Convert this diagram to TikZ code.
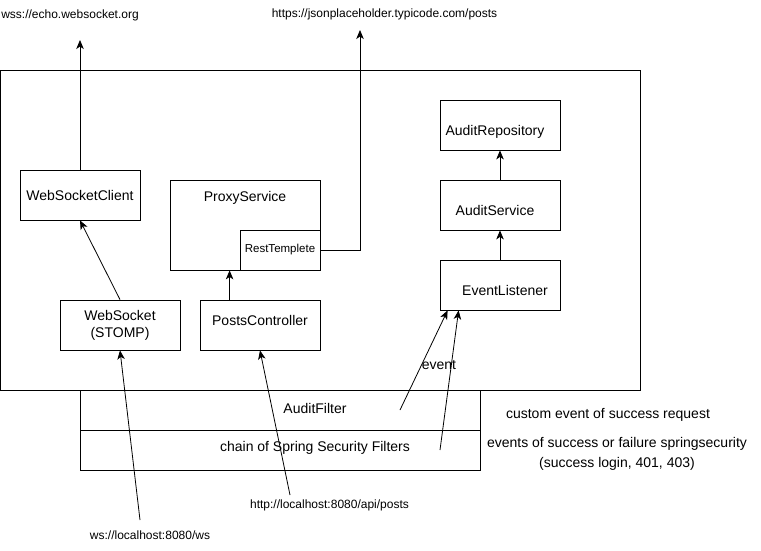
\documentclass[tikz,border=0pt]{standalone}
\usepackage{fontspec}
\setmainfont{Liberation Sans}
\usetikzlibrary{arrows.meta}

\begin{document}
\begin{tikzpicture}[x=1pt,y=-1pt,
    box/.style={draw, line width=0.8pt, minimum width=120pt, minimum height=50pt, inner sep=0pt, font=\fontsize{14}{17}\selectfont, align=center},
    every label/.style={font=\fontsize{14}{17}\selectfont, inner sep=0pt},
    url/.style={font=\fontsize{12}{14}\selectfont, inner sep=0pt},
    note/.style={font=\fontsize{14}{20}\selectfont, inner sep=0pt, align=center},
    arr/.style={line width=0.8pt, -{Stealth[length=9pt,width=7.5pt,inset=2.5pt]}}]
    \useasboundingbox (0,0) rectangle (761,550);
    % application and filters
    \draw[line width=0.8pt] (0.5,70) rectangle (640,390);
    \node[box, minimum width=400pt, minimum height=40pt] (auditfilter) at (280,410) {};
    \node[box, minimum width=400pt, minimum height=40pt] (chain) at (280,450) {};
    \node[note] (audittxt) at (315,408) {AuditFilter};
    \node[note] (chaintxt) at (315,448) {chain of Spring Security Filters};
    % components
    \node[box] (wsclient) at (80,195) {WebSocketClient};
    \node[box, minimum width=150pt, minimum height=90pt,
        label={[anchor=north, yshift=-12pt]north:ProxyService}] (proxy) at (245,225) {};
    \node[box, minimum width=80pt, minimum height=40pt, font=\fontsize{11.5}{14}\selectfont] (rest) at (280,250) {\strut RestTemplete};
    \node[box] (stomp) at (120,325) {WebSocket\\(STOMP)};
    \node[box, label={[yshift=5pt]center:PostsController}] (posts) at (260,325) {};
    \node[box, label={[xshift=-5pt, yshift=-7pt]center:AuditRepository}] (repo) at (500,125) {};
    \node[box, label={[xshift=-5pt, yshift=-5pt]center:AuditService}] (auditsvc) at (500,205) {};
    \node[box, label={[xshift=5pt, yshift=-5pt]center:EventListener}] (evl) at (500,285) {};
    % outside
    \coordinate (echoup) at (80,40);
    \coordinate (jsonup) at (360,30);
    \coordinate (wsin) at (140,520);
    \coordinate (httpin) at (290,495);
    \coordinate (afin) at (400,410);
    \coordinate (chin) at (440,450);
    \node[url] (echourl) at (70,15) {wss://echo.websocket.org};
    \node[url] (jsonurl) at (384.5,14) {https://jsonplaceholder.typicode.com/posts};
    \node[url] (wsurl) at (150,535) {ws://localhost:8080/ws};
    \node[url] (httpurl) at (329.5,505) {http://localhost:8080/api/posts};
    \node[note] (evtxt) at (439,365) {event};
    \node[note] (customtxt) at (608,415) {custom event of success request};
    \node[note] (secevtxt) at (617,454) {events of success or failure springsecurity\\(success login, 401, 403)};
    % connectors
    \draw[arr] (wsclient.north) -- (echoup);
    \draw[arr] (rest.east) -| (jsonup);
    \draw[arr] (stomp.north) -- (wsclient.south);
    \draw[arr] ([xshift=30pt]posts.north west) -- ([xshift=60pt]proxy.south west);
    \draw[arr] (auditsvc.north) -- (repo.south);
    \draw[arr] (evl.north) -- (auditsvc.south);
    \draw[arr] (wsin) -- (stomp.south);
    \draw[arr] (httpin) -- (posts.south);
    \draw[arr] (afin) -- ([xshift=8pt]evl.south west);
    \draw[arr] (chin) -- ([xshift=19pt]evl.south west);
\end{tikzpicture}
\end{document}
